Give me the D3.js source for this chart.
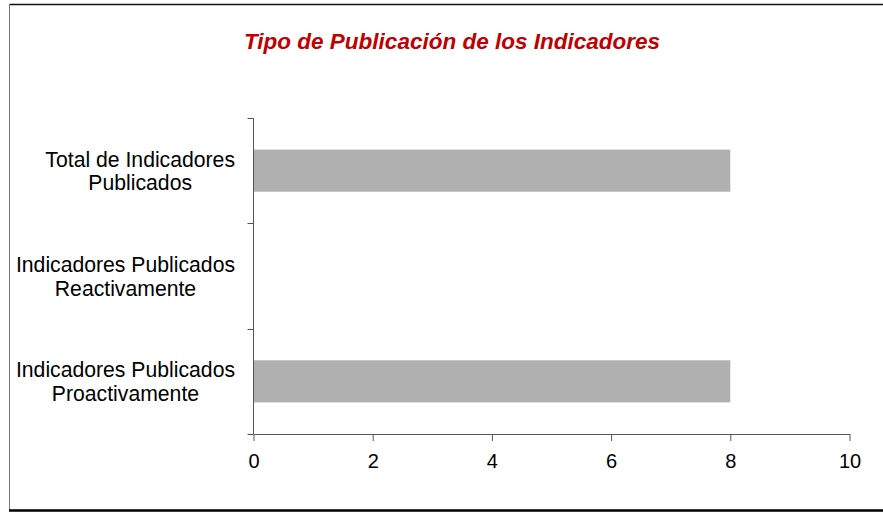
<!DOCTYPE html>
<html>
<head>
<meta charset="utf-8">
<script src="https://cdn.jsdelivr.net/npm/d3@7"></script>
<style>
  body { margin: 0; background: #fff; }
  text { font-family: Arial, "Liberation Sans", sans-serif; }
</style>
</head>
<body>
<svg id="chart" width="883" height="512"></svg>
<script>
var categories = [
  ["Total de Indicadores", "Publicados"],
  ["Indicadores Publicados", "Reactivamente"],
  ["Indicadores Publicados", "Proactivamente"]
];
var values = [8, 0, 8];
var xTicks = [0, 2, 4, 6, 8, 10];
var chartTitle = "Tipo de Publicación de los Indicadores";

var svg = d3.select("#chart");

// outer frame
svg.append("line").attr("x1", 9.5).attr("x2", 883).attr("y1", 4.5).attr("y2", 4.5)
  .attr("stroke", "#111").attr("stroke-width", 1.5);
svg.append("line").attr("x1", 9.5).attr("x2", 9.5).attr("y1", 4).attr("y2", 511)
  .attr("stroke", "#777").attr("stroke-width", 1);
svg.append("line").attr("x1", 9).attr("x2", 883).attr("y1", 510.5).attr("y2", 510.5)
  .attr("stroke", "#000").attr("stroke-width", 2.5);

svg.append("text")
  .attr("x", 452).attr("y", 49)
  .attr("text-anchor", "middle")
  .attr("font-size", "22.5px").attr("font-weight", "bold").attr("font-style", "italic")
  .attr("fill", "#c00000")
  .text(chartTitle);

var x = d3.scaleLinear().domain([0, 10]).range([253.5, 849.5]);
var yIdx = categories.map(function(d, i) { return i; });
var y = d3.scaleBand().domain(yIdx).range([118, 434]).paddingInner(0.6).paddingOuter(0.3);
var yTick = d3.scaleBand().domain(yIdx).range([118, 434]);

// bars
svg.selectAll("rect.bar").data(values).enter().append("rect")
  .attr("class", "bar")
  .attr("x", x(0))
  .attr("y", function(d, i) { return y(i); })
  .attr("width", function(d) { return x(d) - x(0); })
  .attr("height", y.bandwidth())
  .attr("fill", "#b0b0b0");

// y axis
var axisColor = "#555";
var yBounds = yIdx.map(function(i) { return yTick(i); }).concat([434]);
svg.append("line").attr("x1", x(0)).attr("x2", x(0)).attr("y1", 118).attr("y2", 434)
  .attr("stroke", axisColor);
svg.selectAll("line.ytick").data(yBounds).enter().append("line")
  .attr("class", "ytick")
  .attr("x1", x(0) - 6).attr("x2", x(0))
  .attr("y1", function(d) { return Math.round(d) + 0.5; })
  .attr("y2", function(d) { return Math.round(d) + 0.5; })
  .attr("stroke", axisColor);

// category labels, centred block with right edge at 235
var labels = svg.selectAll("g.lab").data(categories).enter().append("g").attr("class", "lab");
labels.each(function(lines, i) {
  var g = d3.select(this);
  var cy = yTick(i) + yTick.bandwidth() / 2;
  var t = g.append("text").attr("font-size", "21.2px").attr("fill", "#000")
    .attr("text-anchor", "middle");
  lines.forEach(function(s, k) {
    t.append("tspan").attr("x", 0).attr("y", cy - 4 + k * 23.5).text(s);
  });
  var w = t.node().getBBox().width;
  t.attr("transform", "translate(" + (235 - w / 2) + ",0)");
});

// x axis
var xAxis = d3.axisBottom(x).tickValues(xTicks).tickSize(7).tickSizeOuter(0).tickFormat(d3.format("d"));
var gx = svg.append("g").attr("transform", "translate(0,434)").call(xAxis);
gx.select(".domain").attr("stroke", axisColor);
gx.selectAll(".tick line").attr("stroke", axisColor);
gx.selectAll(".tick text").attr("font-size", "20px").attr("fill", "#000")
  .attr("font-family", "Arial, 'Liberation Sans', sans-serif")
  .attr("y", 33.5).attr("dy", 0);
</script>
</body>
</html>
